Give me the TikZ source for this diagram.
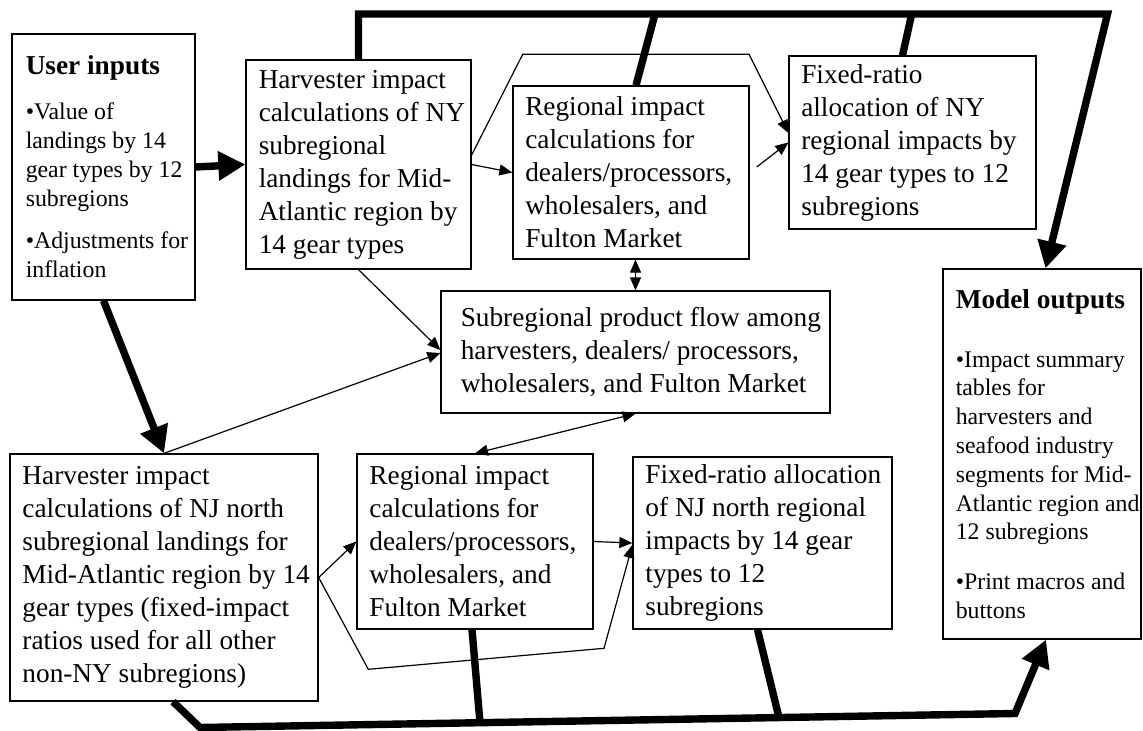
\documentclass[tikz,border=0pt]{standalone}
\usepackage{fontspec}
\setmainfont{Liberation Serif}
\usetikzlibrary{arrows.meta,calc,fit}
\setlength{\parindent}{0pt}
\newcommand\mybig{\fontsize{13.65pt}{16.5pt}\selectfont}
\newcommand\mysmall{\fontsize{11.9pt}{14.4pt}\selectfont}
\begin{document}
\begin{tikzpicture}[x=0.5pt,y=-0.5pt,
  box/.style={draw, line width=0.65pt, inner sep=0pt},
  txt/.style={anchor=west, inner sep=0pt, text width=260pt, align=flush left, font=\mybig},
  tarrow/.style={line width=0.6pt, -{Triangle[length=6.5pt,width=5.5pt]}},
  tboth/.style={line width=0.6pt, {Triangle[length=6.5pt,width=5.5pt]}-{Triangle[length=6.5pt,width=5.5pt]}},
  bus/.style={line width=3.7pt},
  busarrow/.style={line width=3.7pt, -{Triangle[length=13.5pt,width=14pt]}},
]
\useasboundingbox (0,0) rectangle (1143,731);

% boxes
\node[box, fit={(12,34) (195,300)}] (ui) {};
\node[box, fit={(246,60) (471,269)}] (hny) {};
\node[box, fit={(513,86) (749,259)}] (rny) {};
\node[box, fit={(789,56) (1036,229)}] (fny) {};
\node[box, fit={(441,291) (830,413)}] (pf) {};
\node[box, fit={(943,269) (1141,639)}] (mo) {};
\node[box, fit={(10,454) (318,701)}] (hnj) {};
\node[box, fit={(357,454) (593,629)}] (rnj) {};
\node[box, fit={(633,457) (892,629)}] (fnj) {};

% texts
\node[txt] (uit) at ($(ui.west)+(14,0)$) {{\bfseries User inputs\par}\vspace{8pt}{\mysmall •Value of\\landings by 14\\gear types by 12\\subregions\par}\vspace{7pt}{\mysmall •Adjustments for\\inflation\par}};
\node[txt] (hnyt) at ($(hny.west)+(13,0)$) {Harvester impact\\calculations of NY\\subregional\\landings for Mid-\\Atlantic region by\\14 gear types};
\node[txt] (rnyt) at ($(rny.west)+(12.5,0)$) {Regional impact\\calculations for\\dealers/processors,\\wholesalers, and\\Fulton Market};
\node[txt] (fnyt) at ($(fny.west)+(12.5,0)$) {Fixed-ratio\\allocation of NY\\regional impacts by\\14 gear types to 12\\subregions};
\node[txt] (pft) at ($(pf.west)+(20,0)$) {Subregional product flow among\\harvesters, dealers/ processors,\\wholesalers, and Fulton Market};
\node[txt] (mot) at ($(mo.west)+(13,0)$) {{\bfseries Model outputs\par}\vspace{15pt}{\mysmall •Impact summary\\tables for\\harvesters and\\seafood industry\\segments for Mid-\\Atlantic region and\\12 subregions\par}\vspace{10.5pt}{\mysmall •Print macros and\\buttons\par}};
\node[txt] (hnjt) at ($(hnj.west)+(12.7,0)$) {Harvester impact\\calculations of NJ north\\subregional landings for\\Mid-Atlantic region by 14\\gear types (fixed-impact\\ratios used for all other\\non-NY subregions)};
\node[txt] (rnjt) at ($(rnj.west)+(12.7,0)$) {Regional impact\\calculations for\\dealers/processors,\\wholesalers, and\\Fulton Market};
\node[txt] (fnjt) at ($(fnj.west)+(12.7,0)$) {Fixed-ratio allocation\\of NJ north regional\\impacts by 14 gear\\types to 12\\subregions};

% thin connectors
\draw[tarrow] (hny.east) -- (rny.west);
\draw[tarrow] ($(hny.east)+(0,-9.5)$) -- (522.7,54.3) -- (749,54.3) -- ($(fny.west)+(0,-9.5)$);
\draw[tarrow, shorten <=4.5pt] (rny.east) -- (fny.west);
\draw[tboth] (rny.south -| pf.north) -- (pf.north);
\draw[tarrow] (hny.south) -- ($(pf.west)+(0,-2)$);
\draw[tarrow] (hnj.north) -- ($(pf.west)+(0,1)$);
\draw[tboth] (pf.south) -- (rnj.north);
\draw[tarrow] (hnj.east) -- (rnj.west);
\draw[tarrow] (rnj.east) -- (fnj.west);
\draw[tarrow] (hnj.east) -- (368.3,669.3) -- (604,648.3) -- ($(fnj.west)+(0,2)$);

% thick connectors
\draw[busarrow] (ui.east) -- (hny.west);
\draw[busarrow] (ui.south) -- (hnj.north);
\draw[busarrow] (hny.north) |- (1107.5,14) -- ($(mo.north)+(3.5,0)$);
\draw[bus] ($(rny.north)+(5,0)$) -- (655,14);
\draw[bus] ($(fny.north)+(-10,0)$) -- (911.7,14);
\draw[busarrow] ($(hnj.south)+(9,0)$) -- (200,727.5) -- (1015,713.5) -- ($(mo.south)+(4,0)$);
\draw[bus] ($(rnj.south)+(-3,0)$) -- (480,722.7);
\draw[bus] ($(fnj.south)+(-5,0)$) -- (779,717.6);
\end{tikzpicture}
\end{document}
